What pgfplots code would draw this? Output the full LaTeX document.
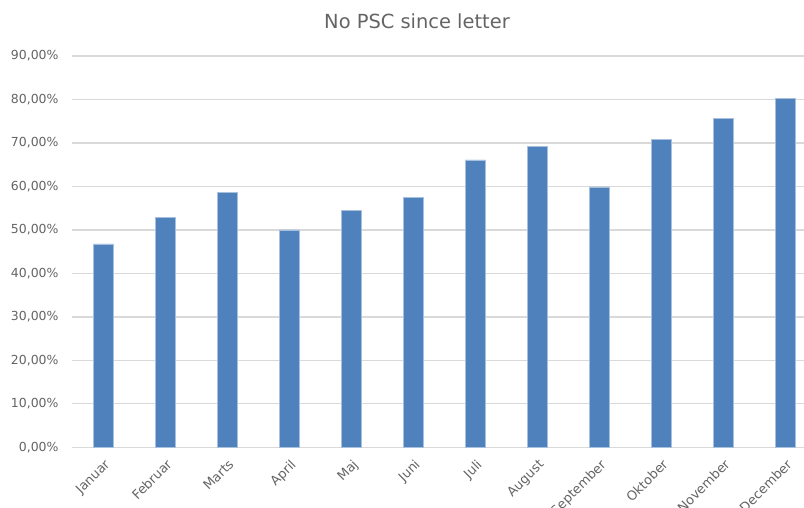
\documentclass[border=0pt]{standalone}
\usepackage{fontspec}
\setmainfont{DejaVu Sans}
\usepackage{pgfplots}
\pgfplotsset{compat=1.18}
\definecolor{barblue}{RGB}{79,129,189}
\definecolor{baredge}{RGB}{167,192,222}
\definecolor{gridgrey}{RGB}{217,217,217}
\definecolor{txtgrey}{RGB}{100,100,100}

\begin{document}
\begin{tikzpicture}
  \begin{axis}[
    scale only axis,
    width=732bp,
    height=391.3bp,
    xmin=-0.5, xmax=11.306,
    ymin=0, ymax=90,
    ytick={0,10,...,90},
    xtick={0,...,11},
    xticklabels={Januar,Februar,Marts,April,Maj,Juni,Juli,August,September,Oktober,November,December},
    axis line style={draw=none},
    major tick length=0pt,
    ymajorgrids=true,
    grid style={gridgrey, line width=1.3bp},
    /pgf/number format/assume math mode=true,
    yticklabel={\pgfmathprintnumber[fixed,fixed zerofill,precision=2,use comma]{\tick}\%},
    yticklabel style={font=\fontsize{12.5}{14}\selectfont, text=txtgrey, anchor=east, xshift=-10bp},
    xticklabel style={font=\fontsize{13}{15}\selectfont, text=txtgrey, rotate=45, anchor=north east, xshift=-4bp, yshift=-5bp},
    clip=false,
  ]
    \addplot[ybar, bar width=20bp, fill=barblue, draw=baredge, line width=0.6bp] coordinates {
      (0,46.8) (1,52.8) (2,58.6) (3,50.0) (4,54.4) (5,57.5)
      (6,66.1) (7,69.3) (8,59.9) (9,70.9) (10,75.6) (11,80.3)
    };
  \end{axis}
  \node[anchor=base, text=txtgrey, font=\fontsize{19.5}{22}\selectfont] at (345bp,418.3bp) {No PSC since letter};
  \pgfresetboundingbox
  \useasboundingbox (-72bp,-60.7bp) rectangle (732bp,447.3bp);
\end{tikzpicture}
\end{document}
